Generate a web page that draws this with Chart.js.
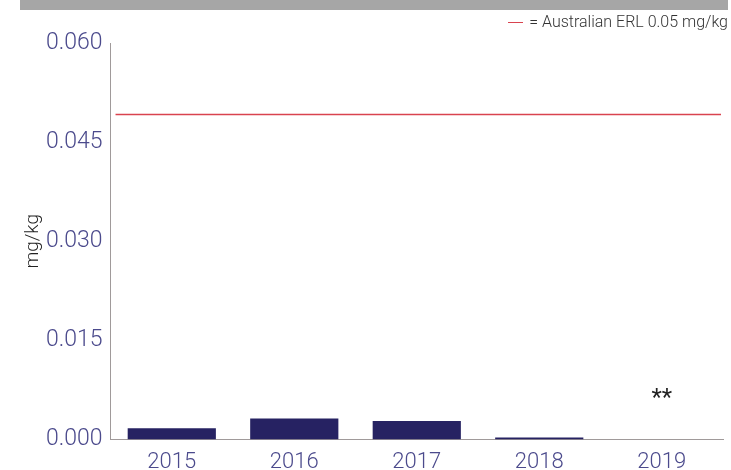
<!DOCTYPE html>
<html>
<head>
<meta charset="utf-8">
<script src="https://cdn.jsdelivr.net/npm/chart.js@4"></script>
<style>
  html, body { margin: 0; padding: 0; background: #fff; }
  #wrap { position: relative; width: 731px; height: 470px; overflow: hidden; }
  #topbar { position: absolute; left: 20px; top: 0; width: 708px; height: 10px; background: #a6a6a6; }
  #legend { position: absolute; right: 3px; top: 12px; font: 300 16px Roboto, 'Liberation Sans', sans-serif; color: #333; white-space: nowrap; }
  #legend .dash { display: inline-block; width: 15px; height: 1px; background: #d9434f; vertical-align: middle; margin-right: 6px; }
  #chart { position: absolute; left: 0; top: 0; }
</style>
</head>
<body>
<div id="wrap">
  <div id="topbar"></div>
  <canvas id="chart" width="731" height="486"></canvas>
  <div id="legend"><span class="dash"></span>= Australian ERL 0.05 mg/kg</div>
</div>
<script>
// values
const years = ['2015', '2016', '2017', '2018', '2019'];
const levels = [0.0017, 0.0032, 0.0028, 0.0003, 0];
const erlLimit = 0.0492;
const yTicks = [0, 0.015, 0.030, 0.045, 0.060];
const notes = ['', '', '', '', '**'];

document.addEventListener('DOMContentLoaded', () => {
    const labelColor = '#4b4a8c';
    const fontFamily = "Roboto, 'Liberation Sans', sans-serif";

    // red ERL line and the ** notes, placed through the chart scales
    const extras = {
        id: 'extras',
        afterDraw(chart) {
            const { ctx, scales: { x, y }, chartArea } = chart;
            const yLine = Math.round(y.getPixelForValue(erlLimit)) + 0.5;
            ctx.save();
            ctx.strokeStyle = '#d9434f';
            ctx.lineWidth = 1.5;
            ctx.setLineDash([]);
            ctx.beginPath();
            ctx.moveTo(chartArea.left + 5, yLine);
            ctx.lineTo(chartArea.right - 2, yLine);
            ctx.stroke();

            ctx.fillStyle = '#222';
            ctx.font = '400 24px ' + fontFamily;
            ctx.textAlign = 'center';
            ctx.textBaseline = 'middle';
            notes.forEach((n, i) => {
                if (n) ctx.fillText(n, x.getPixelForValue(i), y.getPixelForValue(0.0068) + 4);
            });
            ctx.restore();
        }
    };

    new Chart(document.getElementById('chart'), {
        type: 'bar',
        data: {
            labels: years,
            datasets: [{
                data: levels,
                backgroundColor: '#262262',
                borderWidth: 0,
                categoryPercentage: 1,
                barPercentage: 0.72
            }]
        },
        options: {
            responsive: false,
            animation: false,
            layout: { padding: { left: 8, right: 8, top: 43, bottom: 0 } },
            plugins: { legend: { display: false }, tooltip: { enabled: false } },
            scales: {
                x: {
                    grid: { display: false, drawTicks: false },
                    border: { color: '#a09a9a', width: 1 },
                    ticks: { color: labelColor, font: { family: fontFamily, size: 22, weight: 300 }, padding: 10 }
                },
                y: {
                    min: 0,
                    max: 0.06,
                    afterBuildTicks: axis => { axis.ticks = yTicks.map(v => ({ value: v })); },
                    grid: { display: false, drawTicks: false },
                    border: { color: '#a09a9a', width: 1 },
                    ticks: {
                        color: labelColor,
                        font: { family: fontFamily, size: 23, weight: 300 },
                        padding: 8,
                        callback: v => v.toFixed(3)
                    },
                    title: {
                        display: true,
                        text: 'mg/kg',
                        color: '#222',
                        font: { family: fontFamily, size: 19, weight: 300, lineHeight: '9px' },
                        padding: { top: 21, bottom: 0 }
                    }
                }
            }
        },
        plugins: [extras]
    });
});
</script>
</body>
</html>
